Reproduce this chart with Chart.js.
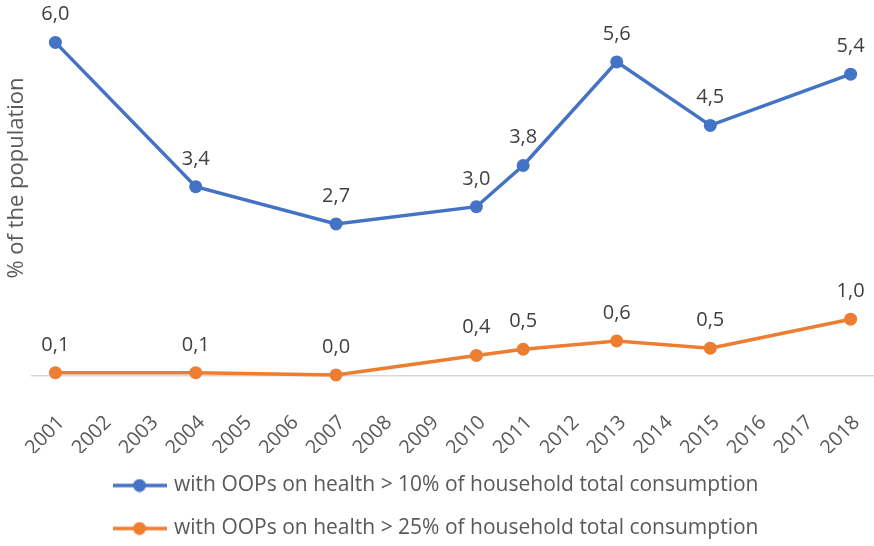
<!DOCTYPE html>
<html>
<head>
<meta charset="utf-8">
<script src="https://cdn.jsdelivr.net/npm/chart.js@4.4.1/dist/chart.umd.min.js"></script>
<style>
  html, body { margin: 0; padding: 0; background: #fff; }
  #wrap { width: 874px; height: 546px; }
</style>
</head>
<body>
<div id="wrap"><canvas id="myChart" width="874" height="546"></canvas></div>
<script>
const years = ["2001", "2002", "2003", "2004", "2005", "2006", "2007", "2008", "2009",
  "2010", "2011", "2012", "2013", "2014", "2015", "2016", "2017", "2018"];
// null = no survey that year, line is drawn across the gap
const over10 = [5.99, null, null, 3.4, null, null, 2.73, null, null,
  3.04, 3.78, null, 5.64, null, 4.5, null, null, 5.42];
const over25 = [0.06, null, null, 0.06, null, null, 0.02, null, null,
  0.37, 0.48, null, 0.63, null, 0.5, null, null, 1.02];
const seriesNames = [
  "with OOPs on health > 10% of household total consumption",
  "with OOPs on health > 25% of household total consumption",
];
const yTitle = "% of the population";

const FONT = "'Open Sans', sans-serif";
const blue = "#4472C4";
const orange = "#ED7D31";

function legendMark(color) {
  const c = document.createElement("canvas");
  c.width = 54;
  c.height = 14;
  const g = c.getContext("2d");
  g.strokeStyle = color;
  g.lineWidth = 3.5;
  g.beginPath();
  g.moveTo(0, 7);
  g.lineTo(54, 7);
  g.stroke();
  g.fillStyle = color;
  g.beginPath();
  g.arc(27, 7, 6.5, 0, Math.PI * 2);
  g.fill();
  return c;
}

const valueLabels = {
  id: "valueLabels",
  afterDatasetsDraw(chart) {
    const ctx = chart.ctx;
    ctx.save();
    ctx.font = "20px " + FONT;
    ctx.fillStyle = "#404040";
    ctx.textAlign = "center";
    ctx.textBaseline = "alphabetic";
    chart.data.datasets.forEach((ds, i) => {
      chart.getDatasetMeta(i).data.forEach((pt, j) => {
        const v = ds.data[j];
        if (v === null) return;
        ctx.fillText(v.toFixed(1).replace(".", ","), pt.x, pt.y - 22);
      });
    });
    ctx.restore();
  },
};

// y title drawn by hand so it can sit where the original has it
const sideTitle = {
  id: "sideTitle",
  afterDraw(chart) {
    const ctx = chart.ctx;
    ctx.save();
    ctx.translate(17, 178);
    ctx.rotate(-Math.PI / 2);
    ctx.font = "22px " + FONT;
    ctx.fillStyle = "#595959";
    ctx.textAlign = "center";
    ctx.textBaseline = "middle";
    ctx.fillText(yTitle, 0, 0);
    ctx.restore();
  },
};

const ctx = document.getElementById("myChart");

new Chart(ctx, {
  type: "line",
  data: {
    labels: years,
    datasets: [
      {
        label: seriesNames[0],
        data: over10,
        borderColor: blue,
        backgroundColor: blue,
        borderWidth: 3.5,
        pointRadius: 6.5,
        pointBorderWidth: 0,
        spanGaps: true,
        tension: 0,
        clip: false,
      },
      {
        label: seriesNames[1],
        data: over25,
        borderColor: orange,
        backgroundColor: orange,
        borderWidth: 3.5,
        pointRadius: 6.5,
        pointBorderWidth: 0,
        spanGaps: true,
        tension: 0,
        clip: false,
      },
    ],
  },
  options: {
    responsive: false,
    animation: false,
    layout: {
      autoPadding: false,
      padding: { left: 0, right: 0, top: 14, bottom: -3 },
    },
    scales: {
      x: {
        offset: true,
        grid: { display: false, tickLength: 8 },
        border: { color: "#d9d9d9", width: 1.5 },
        ticks: {
          autoSkip: false,
          minRotation: 45,
          maxRotation: 45,
          padding: 27,
          labelOffset: 6,
          color: "#595959",
          font: { size: 20, family: FONT },
        },
        afterFit(scale) {
          scale.height = 77;
          scale.paddingLeft = 32;
          scale.paddingRight = 0;
        },
      },
      y: {
        display: false,
        min: 0,
        max: 6.5,
      },
    },
    plugins: {
      tooltip: { enabled: false },
      legend: {
        position: "bottom",
        labels: {
          usePointStyle: true,
          pointStyleWidth: 48,
          padding: 22,
          color: "#595959",
          font: { size: 21, family: FONT },
          generateLabels(chart) {
            return chart.data.datasets.map((ds, i) => ({
              text: ds.label,
              fillStyle: ds.borderColor,
              strokeStyle: ds.borderColor,
              lineWidth: 0,
              pointStyle: legendMark(ds.borderColor),
              fontColor: "#595959",
              hidden: false,
              datasetIndex: i,
            }));
          },
        },
      },
    },
  },
  plugins: [valueLabels, sideTitle],
});
</script>
</body>
</html>
